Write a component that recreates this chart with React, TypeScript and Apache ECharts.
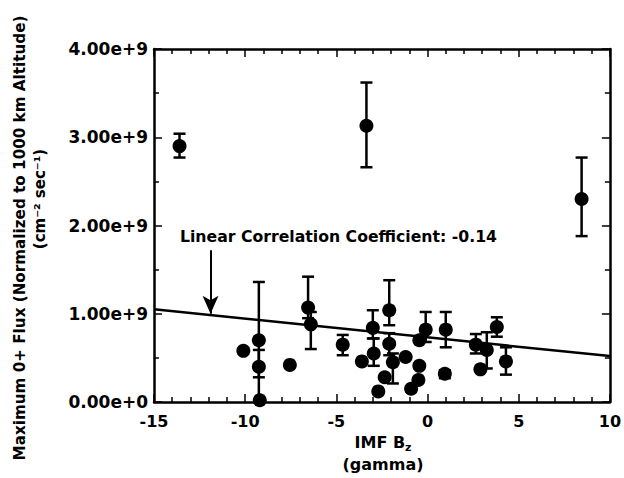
import React, { useEffect, useRef } from "react";
import * as echarts from "echarts";

// IMF Bz (gamma)
const bz = [
  -13.6, -3.35, 8.45, -10.1, -9.25, -9.25, -9.2, -7.55, -6.55, -6.4,
  -4.65, -3.6, -3.0, -2.95, -2.1, -2.1, -1.9, -2.35, -2.7, -1.2,
  -0.45, -0.5, -0.9, -0.1, -0.45, 1.0, 0.95, 2.65, 2.9, 3.25,
  3.8, 4.3,
];
// Maximum O+ flux
const flux = [
  2.9e9, 3.13e9, 2.3e9, 0.58e9, 0.7e9, 0.4e9, 0.02e9, 0.42e9, 1.07e9, 0.88e9,
  0.65e9, 0.46e9, 0.84e9, 0.55e9, 1.04e9, 0.66e9, 0.45e9, 0.28e9, 0.12e9, 0.51e9,
  0.41e9, 0.25e9, 0.15e9, 0.82e9, 0.7e9, 0.82e9, 0.32e9, 0.65e9, 0.37e9, 0.59e9,
  0.85e9, 0.46e9,
];
const errLow: (number | null)[] = [
  2.77e9, 2.66e9, 1.88e9, null, 0.0, 0.28e9, null, null, 0.95e9, 0.6e9,
  0.53e9, null, 0.72e9, 0.41e9, 0.87e9, 0.53e9, 0.21e9, null, null, null,
  null, null, null, 0.68e9, null, 0.62e9, 0.27e9, 0.55e9, null, 0.38e9,
  0.74e9, 0.31e9,
];
const errHigh: (number | null)[] = [
  3.04e9, 3.62e9, 2.77e9, null, 1.36e9, 0.59e9, null, null, 1.42e9, 1.02e9,
  0.76e9, null, 1.04e9, 0.72e9, 1.38e9, 0.78e9, 0.55e9, null, null, null,
  null, null, null, 1.02e9, null, 1.02e9, 0.36e9, 0.77e9, null, 0.79e9,
  0.96e9, 0.62e9,
];
// Linear fit
const fitX = [-15, 10];
const fitY = [1.05e9, 0.52e9];
// Arrow pointing at fit line
const arrowX = -11.9;
const arrowY = [1.72e9, 1.0e9];

const yTicks = ["0.00e+0", "1.00e+9", "2.00e+9", "3.00e+9", "4.00e+9"];

const FONT = "'DejaVu Sans', 'Liberation Sans', Arial, sans-serif";

export default function App() {
  const ref = useRef<HTMLDivElement>(null);
  useEffect(() => {
    if (!ref.current) return;
    const chart = echarts.init(ref.current, undefined, { renderer: "svg" });
    const points = bz.map((x, i) => [x, flux[i]]);
    const errData = bz
      .map((x, i) => [x, errLow[i], errHigh[i]])
      .filter((d) => d[1] !== null && d[2] !== null);

    const axisCommon = {
      axisLine: { show: true, onZero: false, lineStyle: { color: "#000", width: 2.5 } },
      axisTick: { show: true, inside: true, length: 8, lineStyle: { color: "#000", width: 1.5 } },
      minorTick: { show: true, length: 5, lineStyle: { color: "#000", width: 1.5 } },
      splitLine: { show: false },
    };

    chart.setOption({
      animation: false,
      backgroundColor: "#fff",
      grid: { left: 154, right: 12, top: 49, bottom: 76 },
      xAxis: [
        {
          type: "value",
          min: -15,
          max: 10,
          interval: 5,
          position: "bottom",
          ...axisCommon,
          minorTick: { ...axisCommon.minorTick, splitNumber: 5 },
          axisLabel: {
            color: "#000",
            fontFamily: FONT,
            fontWeight: "bold",
            fontSize: 16,
            margin: 11,
          },
        },
        {
          type: "value",
          min: -15,
          max: 10,
          interval: 5,
          position: "top",
          ...axisCommon,
          minorTick: { ...axisCommon.minorTick, splitNumber: 5 },
          axisLabel: { show: false },
        },
      ],
      yAxis: [
        {
          type: "value",
          min: 0,
          max: 4e9,
          interval: 1e9,
          position: "left",
          ...axisCommon,
          minorTick: { ...axisCommon.minorTick, splitNumber: 2 },
          axisLabel: {
            color: "#000",
            fontFamily: FONT,
            fontWeight: "bold",
            fontSize: 17,
            margin: 6,
            formatter: (v: number) => yTicks[Math.round(v / 1e9)],
          },
        },
        {
          type: "value",
          min: 0,
          max: 4e9,
          interval: 1e9,
          position: "right",
          ...axisCommon,
          minorTick: { ...axisCommon.minorTick, splitNumber: 2 },
          axisLabel: { show: false },
        },
      ],
      series: [
        {
          type: "custom",
          xAxisIndex: 0,
          yAxisIndex: 0,
          data: errData,
          renderItem: (params: any, api: any) => {
            const x = api.value(0);
            const lo = api.coord([x, api.value(1)]);
            const hi = api.coord([x, api.value(2)]);
            const cap = 6;
            const style = { stroke: "#000", lineWidth: 2.5 };
            return {
              type: "group",
              children: [
                { type: "line", shape: { x1: lo[0], y1: lo[1], x2: hi[0], y2: hi[1] }, style },
                { type: "line", shape: { x1: lo[0] - cap, y1: lo[1], x2: lo[0] + cap, y2: lo[1] }, style },
                { type: "line", shape: { x1: hi[0] - cap, y1: hi[1], x2: hi[0] + cap, y2: hi[1] }, style },
              ],
            };
          },
          z: 2,
        },
        {
          type: "line",
          data: fitX.map((x, i) => [x, fitY[i]]),
          symbol: "none",
          lineStyle: { color: "#000", width: 2.5 },
          z: 3,
          markLine: {
            silent: true,
            symbol: ["none", "arrow"],
            symbolSize: [12, 18],
            label: { show: false },
            lineStyle: { color: "#000", width: 2, type: "solid" },
            data: [[{ coord: [arrowX, arrowY[0]] }, { coord: [arrowX, arrowY[1]] }]],
          },
        },
        {
          type: "scatter",
          data: points,
          symbol: "circle",
          symbolSize: 14,
          itemStyle: { color: "#000", opacity: 1 },
          z: 4,
        },
      ],
      graphic: [
        {
          type: "text",
          left: 180,
          top: 228,
          style: {
            text: "Linear Correlation Coefficient: -0.14",
            font: `bold 15.7px ${FONT}`,
            fill: "#000",
          },
        },
        {
          type: "text",
          x: 20,
          y: 238,
          rotation: Math.PI / 2,
          style: {
            text: "Maximum 0+ Flux (Normalized to 1000 km Altitude)",
            font: `bold 15.2px ${FONT}`,
            fill: "#000",
            align: "center",
            verticalAlign: "middle",
          },
        },
        {
          type: "text",
          x: 40,
          y: 199,
          rotation: Math.PI / 2,
          style: {
            text: "(cm\u207B\u00B2 sec\u207B\u00B9)",
            font: `bold 15px ${FONT}`,
            fill: "#000",
            align: "center",
            verticalAlign: "middle",
          },
        },
        {
          type: "text",
          x: 383,
          y: 442,
          style: {
            text: "{a|IMF B}{b|z}",
            align: "center",
            verticalAlign: "middle",
            rich: {
              a: { font: `bold 16px ${FONT}`, fill: "#000" },
              b: { font: `bold 11px ${FONT}`, fill: "#000", padding: [10, 0, 0, 0] },
            },
          },
        },
        {
          type: "text",
          x: 383,
          y: 464,
          style: {
            text: "(gamma)",
            font: `bold 16px ${FONT}`,
            fill: "#000",
            align: "center",
            verticalAlign: "middle",
          },
        },
      ],
    });
    return () => chart.dispose();
  }, []);
  return (
    <div
      ref={ref}
      style={{ position: "fixed", left: 0, top: 0, width: 624, height: 478 }}
    />
  );
}
